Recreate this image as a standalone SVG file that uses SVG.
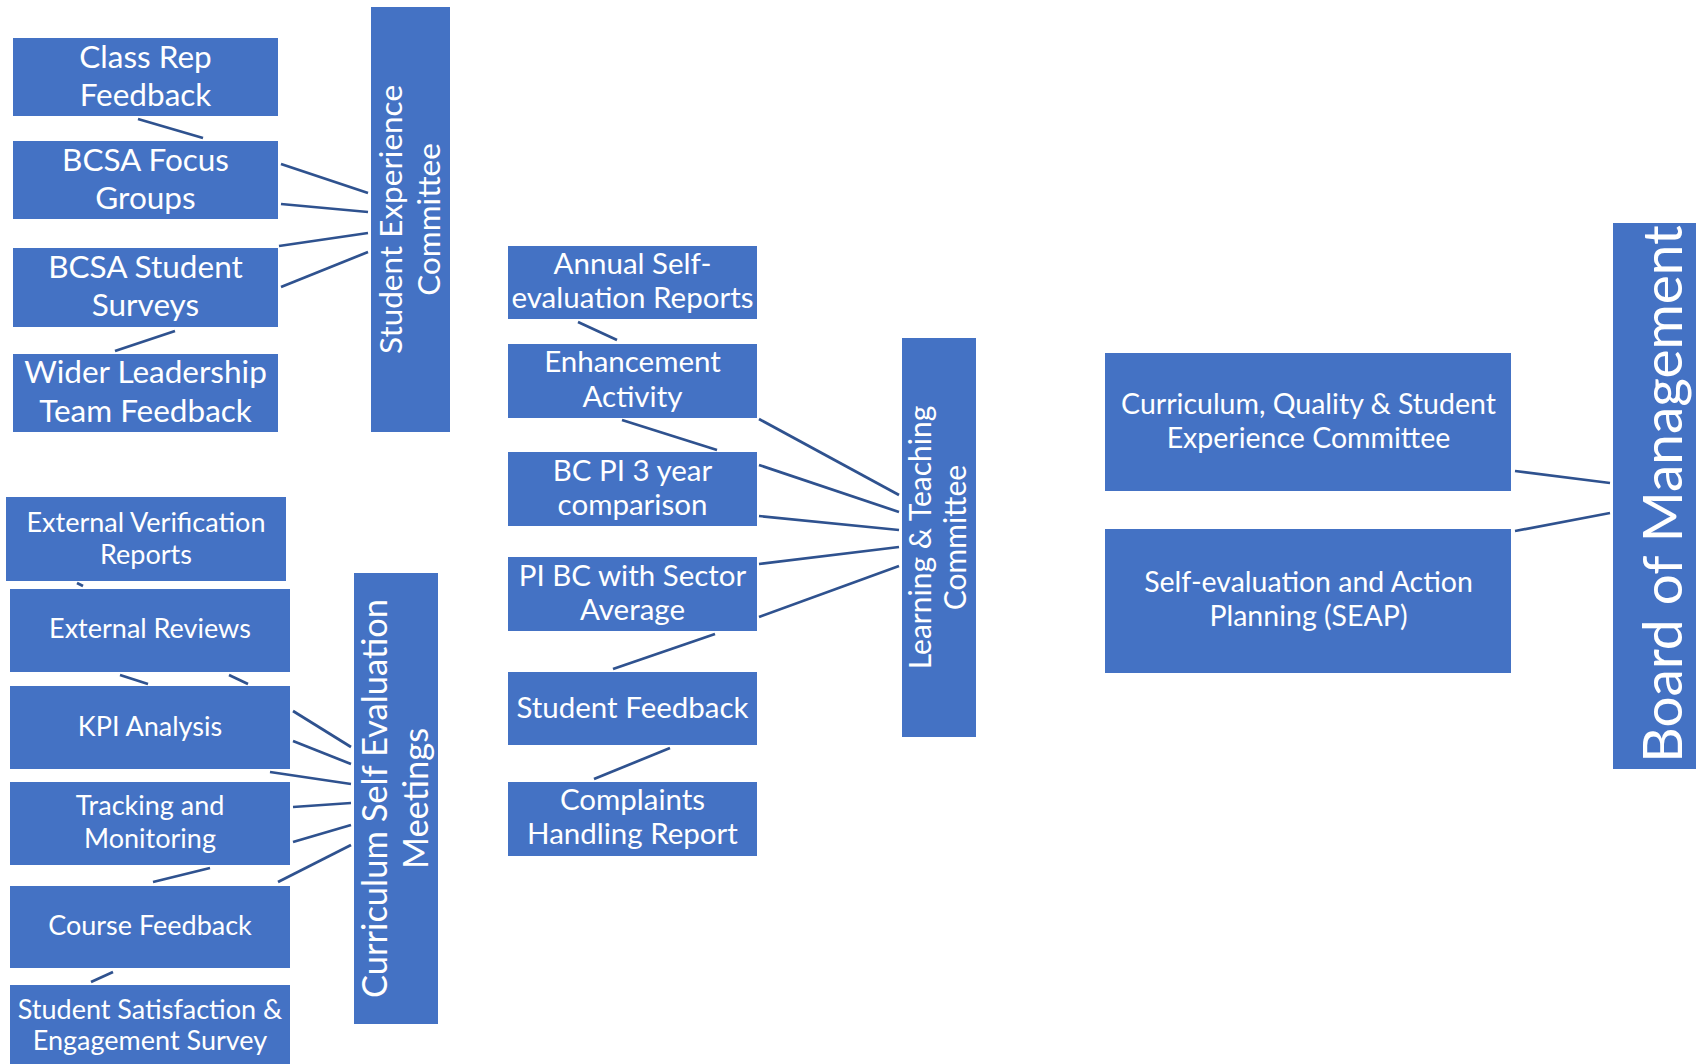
<svg xmlns="http://www.w3.org/2000/svg" width="1696" height="1064" viewBox="0 0 1696 1064">
<style>
.box{fill:#4472C4}
.t{fill:#fff;font-family:Lato,"Open Sans","Liberation Sans",sans-serif;text-anchor:middle}
.a{font-size:31.5px}
.b{font-size:27px}
.c{font-size:29.5px}
.g{font-size:28.5px}
.d{font-size:34.5px}
.e{font-size:30px}
.f{font-size:55px}
#connectors line{stroke:#2F528F;stroke-width:2.7}
</style>
<rect width="1696" height="1064" fill="#fff"/>
<g id="connectors">
<line x1="138" y1="119" x2="203" y2="138"/>
<line x1="281" y1="164" x2="368" y2="193"/>
<line x1="281" y1="204" x2="368" y2="212"/>
<line x1="279" y1="246" x2="368" y2="233"/>
<line x1="281" y1="287" x2="368" y2="252"/>
<line x1="175" y1="331" x2="115" y2="351"/>
<line x1="77" y1="583" x2="83" y2="586"/>
<line x1="120" y1="675" x2="148" y2="684"/>
<line x1="229" y1="675" x2="248" y2="684"/>
<line x1="293" y1="711" x2="351" y2="747"/>
<line x1="293" y1="741" x2="351" y2="764"/>
<line x1="270" y1="772" x2="351" y2="784"/>
<line x1="293" y1="807" x2="351" y2="803"/>
<line x1="293" y1="842" x2="351" y2="825"/>
<line x1="278" y1="882" x2="351" y2="845"/>
<line x1="210" y1="868" x2="153" y2="882"/>
<line x1="113" y1="972" x2="91" y2="982"/>
<line x1="578" y1="322" x2="617" y2="340"/>
<line x1="622" y1="420" x2="717" y2="450"/>
<line x1="759" y1="419" x2="899" y2="495"/>
<line x1="759" y1="465" x2="899" y2="512"/>
<line x1="759" y1="516" x2="899" y2="530"/>
<line x1="759" y1="564" x2="899" y2="547"/>
<line x1="759" y1="617" x2="899" y2="566"/>
<line x1="715" y1="634" x2="613" y2="669"/>
<line x1="670" y1="748" x2="594" y2="779"/>
<line x1="1515" y1="471" x2="1610" y2="483"/>
<line x1="1515" y1="531" x2="1610" y2="513"/>
</g>
<g id="n-classrep"><rect class="box" x="13" y="38" width="265" height="78"/><text class="t a" x="145.5" y="68">Class Rep</text><text class="t a" x="145.5" y="106">Feedback</text></g>
<g id="n-focus"><rect class="box" x="13" y="141" width="265" height="78"/><text class="t a" x="145.5" y="171">BCSA Focus</text><text class="t a" x="145.5" y="209">Groups</text></g>
<g id="n-surveys"><rect class="box" x="13" y="248" width="265" height="79"/><text class="t a" x="145.5" y="278">BCSA Student</text><text class="t a" x="145.5" y="316">Surveys</text></g>
<g id="n-wider"><rect class="box" x="13" y="354" width="265" height="78"/><text class="t a" x="145.5" y="383">Wider Leadership</text><text class="t a" x="145.5" y="422">Team Feedback</text></g>
<g id="n-sec"><rect class="box" x="371" y="7" width="79" height="425"/><g transform="translate(410.5,219.5) rotate(-90)"><text class="t a" x="0" y="-8.5">Student Experience</text><text class="t a" x="0" y="29.5">Committee</text></g></g>
<g id="n-evr"><rect class="box" x="6" y="497" width="280" height="84"/><text class="t b" x="146" y="532">External Verification</text><text class="t b" x="146" y="564">Reports</text></g>
<g id="n-er"><rect class="box" x="10" y="589" width="280" height="83"/><text class="t b" x="150" y="638">External Reviews</text></g>
<g id="n-kpi"><rect class="box" x="10" y="686" width="280" height="83"/><text class="t b" x="150" y="736">KPI Analysis</text></g>
<g id="n-track"><rect class="box" x="10" y="782" width="280" height="83"/><text class="t b" x="150" y="815">Tracking and</text><text class="t b" x="150" y="848">Monitoring</text></g>
<g id="n-course"><rect class="box" x="10" y="886" width="280" height="82"/><text class="t b" x="150" y="935">Course Feedback</text></g>
<g id="n-ss"><rect class="box" x="10" y="985" width="280" height="79"/><text class="t b" x="150" y="1019">Student Satisfaction &amp;</text><text class="t b" x="150" y="1050">Engagement Survey</text></g>
<g id="n-csem"><rect class="box" x="354" y="573" width="84" height="451"/><g transform="translate(396,798.5) rotate(-90)"><text class="t d" x="0" y="-9.5">Curriculum Self Evaluation</text><text class="t d" x="0" y="31.5">Meetings</text></g></g>
<g id="n-annual"><rect class="box" x="508" y="246" width="249" height="73"/><text class="t c" x="632.5" y="274">Annual Self-</text><text class="t c" x="632.5" y="308">evaluation Reports</text></g>
<g id="n-enh"><rect class="box" x="508" y="344" width="249" height="74"/><text class="t c" x="632.5" y="372">Enhancement</text><text class="t c" x="632.5" y="407">Activity</text></g>
<g id="n-bcpi"><rect class="box" x="508" y="452" width="249" height="74"/><text class="t c" x="632.5" y="481">BC PI 3 year</text><text class="t c" x="632.5" y="515">comparison</text></g>
<g id="n-pibc"><rect class="box" x="508" y="557" width="249" height="74"/><text class="t c" x="632.5" y="586">PI BC with Sector</text><text class="t c" x="632.5" y="620">Average</text></g>
<g id="n-sf"><rect class="box" x="508" y="672" width="249" height="73"/><text class="t c" x="632.5" y="718">Student Feedback</text></g>
<g id="n-comp"><rect class="box" x="508" y="782" width="249" height="74"/><text class="t c" x="632.5" y="810">Complaints</text><text class="t c" x="632.5" y="844">Handling Report</text></g>
<g id="n-ltc"><rect class="box" x="902" y="338" width="74" height="399"/><g transform="translate(939,537.5) rotate(-90)"><text class="t e" x="0" y="-8">Learning &amp; Teaching</text><text class="t e" x="0" y="27">Committee</text></g></g>
<g id="n-cqsec"><rect class="box" x="1105" y="353" width="406" height="138"/><text class="t g" x="1308.5" y="414">Curriculum, Quality &amp; Student</text><text class="t g" x="1308.5" y="448">Experience Committee</text></g>
<g id="n-seap"><rect class="box" x="1105" y="529" width="406" height="144"/><text class="t g" x="1308.5" y="592">Self-evaluation and Action</text><text class="t g" x="1308.5" y="626">Planning (SEAP)</text></g>
<g id="n-bom"><rect class="box" x="1613" y="223" width="83" height="546"/><text class="t f" transform="translate(1681.5,494) rotate(-90)" x="0" y="0">Board of Management</text></g>
</svg>
